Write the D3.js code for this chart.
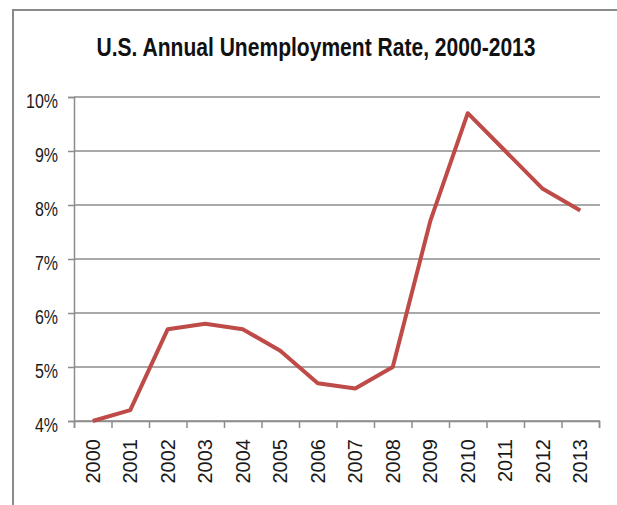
<!DOCTYPE html>
<html>
<head>
<meta charset="utf-8">
<script src="https://cdn.jsdelivr.net/npm/d3@7"></script>
<style>
  body { margin: 0; background: #fff; }
  svg { display: block; }
</style>
</head>
<body>
<svg width="617" height="505"></svg>
<script>
// chart data
const years = ['2000', '2001', '2002', '2003', '2004', '2005', '2006',
  '2007', '2008', '2009', '2010', '2011', '2012', '2013'];
const rates = [4.0, 4.2, 5.7, 5.8, 5.7, 5.3, 4.7, 4.6, 5.0, 7.7, 9.7, 9.0, 8.3, 7.9];
const yTicks = [4, 5, 6, 7, 8, 9, 10];
const title = 'U.S. Annual Unemployment Rate, 2000-2013';

const svg = d3.select('svg');
const sans = '"Liberation Sans", Arial, sans-serif';
const grey = '#8c8c8c';

// squeeze text sideways, no narrow font installed
function narrowText(sel, k) {
  sel.each(function() {
    const w = this.getComputedTextLength();
    d3.select(this)
      .attr('textLength', w * k)
      .attr('lengthAdjust', 'spacingAndGlyphs');
  });
}

// frame of the chart area
svg.append('rect')
  .attr('x', 13)
  .attr('y', 10)
  .attr('width', 620)
  .attr('height', 520)
  .attr('fill', 'none')
  .style('stroke', '#8a8a8a')
  .style('stroke-width', 2);

const plotL = 74, plotR = 599, plotT = 97, plotB = 421;

const x = d3.scaleBand().domain(years).range([plotL, plotR]);
const xEdge = d3.scaleLinear().domain([0, years.length]).range([plotL, plotR]);
const y = d3.scaleLinear().domain([4, 10]).range([plotB, plotT]);

// gridlines
svg.append('g')
  .selectAll('line')
  .data(yTicks)
  .join('line')
  .attr('x1', plotL)
  .attr('x2', plotR + 1)
  .attr('y1', d => y(d))
  .attr('y2', d => y(d))
  .style('stroke', grey)
  .style('stroke-width', 1.5);

// y axis
const yAxis = svg.append('g')
  .attr('transform', `translate(${plotL},0)`)
  .call(d3.axisLeft(y).tickValues(yTicks).tickSize(6).tickPadding(10)
    .tickFormat(d => d + '%'));
yAxis.selectAll('path, line').style('stroke', grey).style('stroke-width', 1.5);
yAxis.selectAll('text')
  .style('font-family', sans)
  .style('font-size', '20px')
  .style('fill', '#1a1a1a')
  .attr('dy', '0.5em')
  .call(narrowText, 0.8);

// x axis, ticks on the category edges
const xAxis = svg.append('g')
  .attr('transform', `translate(0,${plotB})`)
  .call(d3.axisBottom(xEdge).tickValues(d3.range(years.length + 1))
    .tickSize(7).tickFormat(''));
xAxis.selectAll('path, line').style('stroke', grey).style('stroke-width', 1.5);

svg.append('g')
  .selectAll('text')
  .data(years)
  .join('text')
  .attr('transform', d => `translate(${x(d) + x.bandwidth() / 2 + 7},${plotB + 18}) rotate(-90)`)
  .attr('text-anchor', 'end')
  .style('font-family', sans)
  .style('font-size', '20px')
  .style('fill', '#1a1a1a')
  .text(d => d);

// the series
const line = d3.line()
  .x((d, i) => x(years[i]) + x.bandwidth() / 2)
  .y(d => y(d));

svg.append('path')
  .datum(rates)
  .attr('d', line)
  .attr('fill', 'none')
  .style('stroke', '#be4b48')
  .style('stroke-width', 4)
  .style('stroke-linejoin', 'round');

// title
svg.append('text')
  .attr('x', 316)
  .attr('y', 56)
  .attr('text-anchor', 'middle')
  .attr('textLength', 439)
  .attr('lengthAdjust', 'spacingAndGlyphs')
  .style('font-family', sans)
  .style('font-weight', 'bold')
  .style('font-size', '25px')
  .style('fill', '#111')
  .text(title);
</script>
</body>
</html>
